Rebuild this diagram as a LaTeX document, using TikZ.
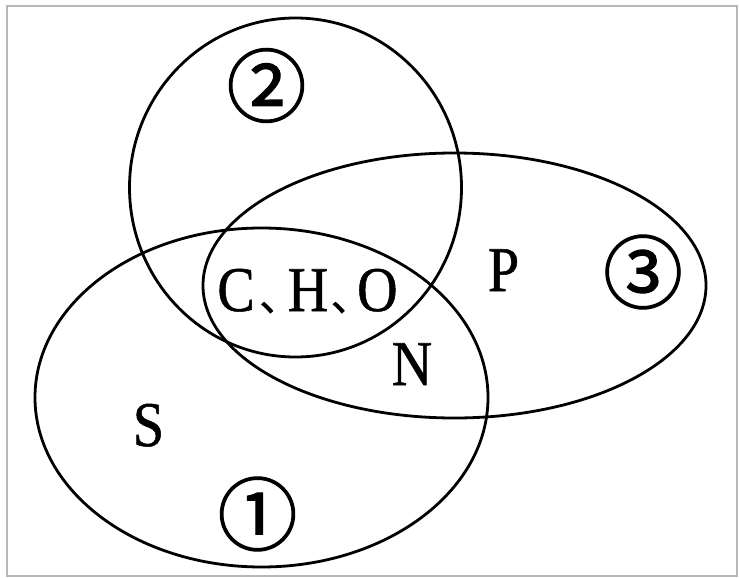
\documentclass[tikz,border=0pt]{standalone}
\usepackage{fontspec}
\setmainfont[FakeStretch=0.88,FakeBold=0.8]{Liberation Serif}
\newfontfamily\cjk[CharacterWidth=AlternateProportional,FakeBold=1.2]{Noto Sans CJK SC}
\newfontfamily\cjknum[FakeBold=1.5]{Noto Sans CJK SC}
\begin{document}
\begin{tikzpicture}[x=1bp,y=-1bp,
  setline/.style={line width=2.8bp,black},
  lbl/.style={inner sep=0pt,font=\fontsize{64}{64}\selectfont,anchor=base},
  num/.style={inner sep=0pt,font=\cjknum\fontsize{80}{80}\selectfont},
  frame/.style={draw=black!28,line width=2bp}]
\useasboundingbox (0,0) rectangle (739,578);
\draw[frame] (7,6) rectangle (737,576);
% sets
\draw[setline] (295.5,187.5) ellipse [x radius=166bp, y radius=169.5bp];
\draw[setline] (454.5,285.5) ellipse [x radius=251.5bp, y radius=132.5bp];
\draw[setline] (261.5,397.5) ellipse [x radius=226.5bp, y radius=169.5bp];
% labels
\node[lbl] (cho) at (307.5,311) {C\kern5bp{\cjk\fontsize{40}{40}\selectfont 、}\kern8bp H\kern3bp{\cjk\fontsize{40}{40}\selectfont 、}\kern6bp O};
\node[lbl] (p) at (503.5,291) {P};
\node[lbl] (n) at (412,385) {N};
\node[lbl] (s) at (148.5,446) {S};
\node[num] (two) at (266.5,85.5) {②};
\node[num] (three) at (643,272) {③};
\node[num] (one) at (257.5,514) {①};
\end{tikzpicture}
\end{document}
